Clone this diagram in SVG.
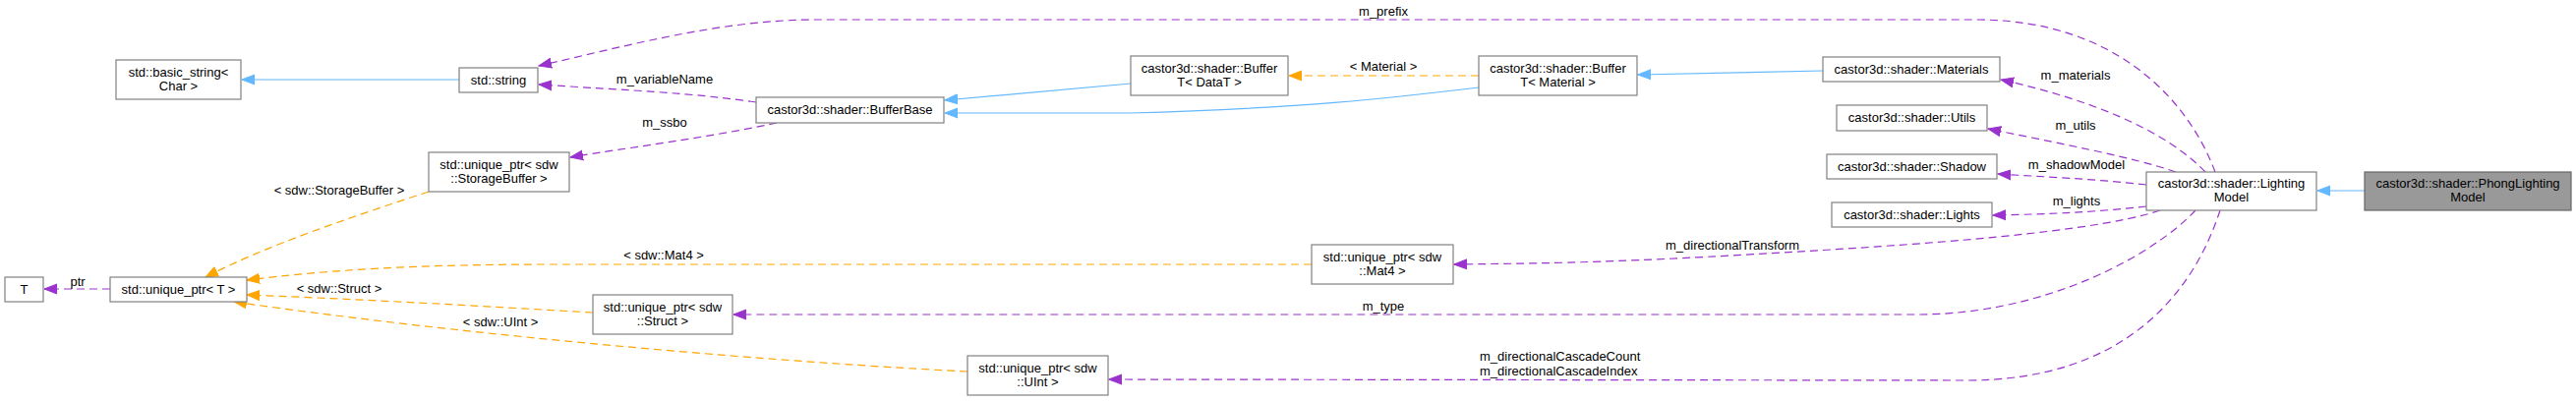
<svg xmlns="http://www.w3.org/2000/svg" width="2620" height="408" viewBox="0 0 2620 408">
<style>
text{font-family:"Liberation Sans",Arial,sans-serif;font-size:13px;fill:#000}
.n rect{fill:#fff;stroke:#808080;stroke-width:1.2}
.n.sel rect{fill:#999;stroke:#666}
.n text{text-anchor:middle}
.e{fill:none;stroke-width:1.2}
.inh{stroke:#63b8ff;marker-end:url(#ab)}
.use{stroke:#9a32cd;stroke-dasharray:8,5;marker-end:url(#ap)}
.tpl{stroke:#ffa500;stroke-dasharray:8,5;marker-end:url(#ao)}
.lbl{text-anchor:middle}
</style>
<defs>
<marker id="ab" markerUnits="userSpaceOnUse" markerWidth="14" markerHeight="12" refX="13" refY="6" orient="auto"><path d="M0,1 L13,6 L0,11 Z" fill="#63b8ff" stroke="#63b8ff"/></marker>
<marker id="ap" markerUnits="userSpaceOnUse" markerWidth="14" markerHeight="12" refX="13" refY="6" orient="auto"><path d="M0,1 L13,6 L0,11 Z" fill="#9a32cd" stroke="#9a32cd"/></marker>
<marker id="ao" markerUnits="userSpaceOnUse" markerWidth="14" markerHeight="12" refX="13" refY="6" orient="auto"><path d="M0,1 L13,6 L0,11 Z" fill="#ffa500" stroke="#ffa500"/></marker>
</defs>
<g id="connectors">
<path class="e inh" d="M467,81 H246"/>
<path class="e use" d="M2253,175 C2225,100 2150,20 2010,20 L830,20 C735,20 640,46 548,67"/>
<path class="e use" d="M769,104 C700,94 640,92 548,86"/>
<path class="e use" d="M790,125 C720,140 640,150 580,160"/>
<path class="e inh" d="M1150,85 L961,102"/>
<path class="e inh" d="M1504,89 C1420,99 1330,110 1150,115 L961,115"/>
<path class="e tpl" d="M1504,77 H1311"/>
<path class="e inh" d="M1854,72 L1666,76"/>
<path class="e use" d="M2243,175 C2200,130 2120,100 2035,81"/>
<path class="e use" d="M2213,175 C2170,160 2090,145 2022,131"/>
<path class="e use" d="M2183,188 C2130,182 2080,180 2032,177"/>
<path class="e use" d="M2183,210 C2130,216 2080,218 2027,219"/>
<path class="e use" d="M2197,214 C2120,240 1900,252 1760,260 S1550,268 1479,269"/>
<path class="e use" d="M2233,214 C2190,260 2080,320 1950,320 L746,320"/>
<path class="e use" d="M2258,214 C2230,300 2160,387 2000,387 L1128,386"/>
<path class="e inh" d="M2405,194 H2357"/>
<path class="e use" d="M112,294 H45"/>
<path class="e tpl" d="M436,195 C360,220 270,250 209,282"/>
<path class="e tpl" d="M1334,269 L560,269 C420,269 330,275 251,285"/>
<path class="e tpl" d="M603,318 C500,312 380,305 251,300"/>
<path class="e tpl" d="M984,378 C820,370 500,345 238,307"/>
<text class="lbl" x="1407" y="16">m_prefix</text>
<text class="lbl" x="1407" y="72">&lt; Material &gt;</text>
<text class="lbl" x="676" y="85">m_variableName</text>
<text class="lbl" x="676" y="129">m_ssbo</text>
<text class="lbl" x="345" y="198">&lt; sdw::StorageBuffer &gt;</text>
<text class="lbl" x="79" y="291">ptr</text>
<text class="lbl" x="675" y="264">&lt; sdw::Mat4 &gt;</text>
<text class="lbl" x="345" y="298">&lt; sdw::Struct &gt;</text>
<text class="lbl" x="509" y="332">&lt; sdw::UInt &gt;</text>
<text class="lbl" x="1762" y="254">m_directionalTransform</text>
<text class="lbl" x="1407" y="316">m_type</text>
<text x="1505" y="367">m_directionalCascadeCount</text>
<text x="1505" y="382">m_directionalCascadeIndex</text>
<text class="lbl" x="2111" y="81">m_materials</text>
<text class="lbl" x="2111" y="132">m_utils</text>
<text class="lbl" x="2112" y="172">m_shadowModel</text>
<text class="lbl" x="2112" y="209">m_lights</text>
</g>
<g id="n_basic_string" class="n"><rect x="118" y="61" width="127" height="40"/><text x="181.5" y="78">std::basic_string&lt;</text><text x="181.5" y="92">Char &gt;</text></g>
<g id="n_string" class="n"><rect x="467" y="69" width="80" height="25"/><text x="507" y="86">std::string</text></g>
<g id="n_storagebuffer" class="n"><rect x="436" y="155" width="143" height="40"/><text x="507.5" y="172">std::unique_ptr&lt; sdw</text><text x="507.5" y="186">::StorageBuffer &gt;</text></g>
<g id="n_T" class="n"><rect x="5" y="282" width="39" height="25"/><text x="24.5" y="299">T</text></g>
<g id="n_uptrT" class="n"><rect x="112" y="282" width="139" height="25"/><text x="181.5" y="299">std::unique_ptr&lt; T &gt;</text></g>
<g id="n_struct" class="n"><rect x="603" y="300" width="142" height="40"/><text x="674" y="317">std::unique_ptr&lt; sdw</text><text x="674" y="331">::Struct &gt;</text></g>
<g id="n_bufferbase" class="n"><rect x="769" y="99" width="191" height="26"/><text x="864.5" y="116">castor3d::shader::BufferBase</text></g>
<g id="n_buffer_datat" class="n"><rect x="1150" y="57" width="160" height="40"/><text x="1230" y="74">castor3d::shader::Buffer</text><text x="1230" y="88">T&lt; DataT &gt;</text></g>
<g id="n_uint" class="n"><rect x="984" y="362" width="143" height="40"/><text x="1055.5" y="379">std::unique_ptr&lt; sdw</text><text x="1055.5" y="393">::UInt &gt;</text></g>
<g id="n_mat4" class="n"><rect x="1334" y="249" width="144" height="40"/><text x="1406" y="266">std::unique_ptr&lt; sdw</text><text x="1406" y="280">::Mat4 &gt;</text></g>
<g id="n_buffer_material" class="n"><rect x="1504" y="57" width="161" height="40"/><text x="1584.5" y="74">castor3d::shader::Buffer</text><text x="1584.5" y="88">T&lt; Material &gt;</text></g>
<g id="n_materials" class="n"><rect x="1854" y="58" width="180" height="25"/><text x="1944" y="75">castor3d::shader::Materials</text></g>
<g id="n_utils" class="n"><rect x="1868" y="107" width="153" height="26"/><text x="1944.5" y="124">castor3d::shader::Utils</text></g>
<g id="n_shadow" class="n"><rect x="1858" y="157" width="173" height="25"/><text x="1944.5" y="174">castor3d::shader::Shadow</text></g>
<g id="n_lights" class="n"><rect x="1863" y="206" width="163" height="25"/><text x="1944.5" y="223">castor3d::shader::Lights</text></g>
<g id="n_lightingmodel" class="n"><rect x="2183" y="175" width="173" height="39"/><text x="2269.5" y="191">castor3d::shader::Lighting</text><text x="2269.5" y="205">Model</text></g>
<g id="n_phong" class="n sel"><rect x="2405" y="175" width="210" height="39"/><text x="2510" y="191">castor3d::shader::PhongLighting</text><text x="2510" y="205">Model</text></g>
</svg>
